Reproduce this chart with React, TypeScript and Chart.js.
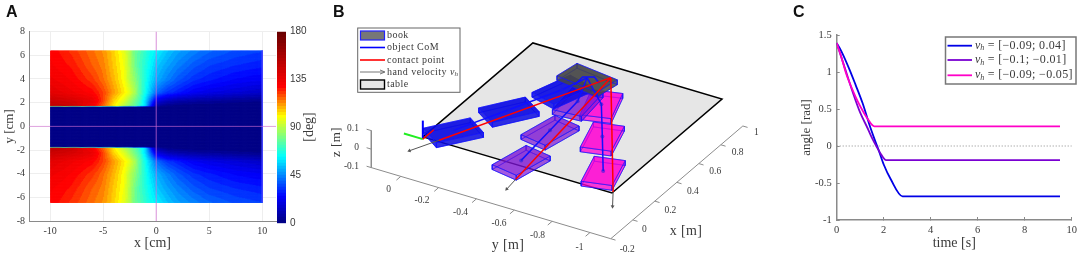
import React, { useEffect, useRef } from "react";
import { Chart, registerables } from "chart.js";

Chart.register(...registerables);

const SERIF = "'Liberation Serif', serif";
const SANS = "'Liberation Sans', sans-serif";
const AXIS = "#8a8a8a";
const INK = "#3a3a3a";

/* ---------- Panel A data ---------- */
const heatCols = [-10, -8, -6, -5, -4, -3, -2.5, -2, -1.5, -1, -0.5, 0, 1, 2, 3.5, 5, 7.5, 10];
const heatRows = [6.4, 5.2, 4, 2.9, 2.2, 1.75, 1.7, 0];
const heatRow64 = [129, 123, 116, 112, 105, 96, 89, 78, 74, 69, 64, 61, 54, 49, 44, 40, 36, 34];
const heatRow52 = [130, 126, 118, 114, 106, 98, 89, 79, 72, 67, 61, 55, 49, 44, 38, 34, 31, 29];
const heatRow40 = [133, 129, 122, 116, 108, 99, 90, 83, 74, 66, 57, 51, 44, 38, 32, 29, 25, 23];
const heatRow29 = [138, 133, 128, 121, 111, 102, 96, 87, 75, 64, 52, 41, 33, 29, 23, 20, 17, 14];
const heatRow22 = [146, 142, 135, 121, 105, 95, 87, 79, 71, 57, 38, 20, 12, 9, 7, 6, 4, 3];
const heatRow175 = [150, 146, 130, 117, 102, 89, 83, 76, 67, 57, 29, 7, 2, 1, 0, 0, 0, 0];
const heatRow17 = [0, 0, 0, 0, 0, 0, 0, 0, 0, 0, 0, 0, 0, 0, 0, 0, 0, 0];
const heatRow0 = [0, 0, 0, 0, 0, 0, 0, 0, 0, 0, 0, 0, 0, 0, 0, 0, 0, 0];
const heatTable = [heatRow64, heatRow52, heatRow40, heatRow29, heatRow22, heatRow175, heatRow17, heatRow0];
const ticksAx = [-10, -5, 0, 5, 10];
const ticksAy = [-8, -6, -4, -2, 0, 2, 4, 6, 8];
const ticksBar = [0, 45, 90, 135, 180];
const jetStops: number[][] = [
  [0, 0, 0, 128],
  [25, 0, 0, 255],
  [62, 0, 255, 255],
  [100, 255, 255, 0],
  [128, 255, 0, 0],
  [180, 100, 0, 0],
];
const BAND = 180 / 64;

/* ---------- Panel B data (metres) ---------- */
const blueBooksX = [0.085, 0.378, 0.661];
const blueBooksY = [-0.112, -0.235, -0.351];
const blueBooksA = [-0.62, -0.6, -0.3];
const purpleBooksX = [0.007, 0.312, 0.606];
const purpleBooksY = [-0.516, -0.491, -0.466];
const purpleBooksA = [-0.19, -0.19, 0.1];
const magentaBooksX = [0.116, 0.385, 0.639];
const magentaBooksY = [-0.886, -0.725, -0.572];
const magentaBooksA = [0.27, 0.27, 0.3];
const startBook = [0.814, -0.395, 1.42];
const arcX = [0.73, 0.809, 0.837, 0.802];
const arcY = [-0.379, -0.374, -0.42, -0.466];
const contactStart = [0.897, -0.472];
const contactEndX = [0.0, -0.128, 0.0];
const contactEndY = [-0.086, -0.566, -1.006];
const handVx = [-0.09, -0.1, -0.09];
const handVy = [0.04, -0.01, -0.05];
const handLen = [1.7, 1, 1.3];
const ticksBx = [-0.2, 0, 0.2, 0.4, 0.6, 0.8, 1];
const ticksBy = [0, -0.2, -0.4, -0.6, -0.8, -1];
const ticksBz = [-0.1, 0, 0.1];
const legendB = ["book", "object CoM", "contact point", "hand velocity ", "table"];

/* ---------- Panel C data ---------- */
const ticksCx = [0, 2, 4, 6, 8, 10];
const ticksCy = [-1, -0.5, 0, 0.5, 1, 1.5];
const blueT = [0, 0.2, 0.55, 0.8, 1.1, 1.4, 1.6, 1.8, 2.0, 2.3, 2.8, 9.5];
const blueA = [1.39, 1.28, 1.03, 0.83, 0.58, 0.28, 0.1, -0.07, -0.25, -0.45, -0.68, -0.68];
const purpleT = [0, 0.3, 0.7, 1.0, 1.3, 1.5, 1.7, 1.9, 2.1, 9.5];
const purpleA = [1.39, 1.1, 0.71, 0.45, 0.25, 0.11, -0.01, -0.12, -0.19, -0.19];
const magentaT = [0, 0.2, 0.4, 0.7, 0.9, 1.1, 1.3, 1.6, 9.5];
const magentaA = [1.39, 1.2, 0.98, 0.74, 0.6, 0.48, 0.375, 0.265, 0.265];
const legendC = [" = [−0.09; 0.04]", " = [−0.1; −0.01]", " = [−0.09; −0.05]"];

/* ---------- helpers ---------- */
function jet(v: number) {
  const q = Math.min(179.9, Math.max(0, Math.floor(v / BAND) * BAND + BAND / 2));
  for (let i = 1; i < jetStops.length; i++) {
    const a = jetStops[i - 1];
    const b = jetStops[i];
    if (q <= b[0]) {
      const t = (q - a[0]) / (b[0] - a[0]);
      return `rgb(${a[1] + (b[1] - a[1]) * t},${a[2] + (b[2] - a[2]) * t},${a[3] + (b[3] - a[3]) * t})`;
    }
  }
  return "rgb(100,0,0)";
}

function txt(ctx: any, s: string, x: number, y: number, font: string, opt: any = {}) {
  ctx.save();
  ctx.font = font;
  ctx.fillStyle = opt.color || INK;
  ctx.textAlign = opt.align || "center";
  ctx.textBaseline = "middle";
  if (opt.spacing) ctx.letterSpacing = opt.spacing;
  ctx.translate(x, y);
  if (opt.rot) ctx.rotate(opt.rot);
  ctx.fillText(s, 0, 0);
  const w = ctx.measureText(s).width;
  ctx.restore();
  return w;
}

function fixedTicks(values: number[]) {
  return (scale: any) => {
    scale.ticks = values.map((v) => ({ value: v }));
  };
}

function boxFit(prop: string, v: number) {
  return (scale: any) => {
    scale[prop] = v;
  };
}

/* ---------- Panel A ---------- */
function heatAt(x: number, y: number) {
  const ay = Math.abs(y);
  let r = 0;
  while (r < heatRows.length - 2 && ay < heatRows[r + 1]) r++;
  let c = 0;
  while (c < heatCols.length - 2 && x > heatCols[c + 1]) c++;
  const ty = (heatRows[r] - ay) / (heatRows[r] - heatRows[r + 1]);
  const tx = (x - heatCols[c]) / (heatCols[c + 1] - heatCols[c]);
  const top = heatTable[r][c] * (1 - tx) + heatTable[r][c + 1] * tx;
  const bot = heatTable[r + 1][c] * (1 - tx) + heatTable[r + 1][c + 1] * tx;
  return top * (1 - ty) + bot * ty;
}

const heatPlugin = {
  id: "heat",
  beforeDatasetsDraw(chart: any) {
    const { ctx, scales } = chart;
    const sx = scales.x;
    const sy = scales.y;
    const dx = 0.1;
    const dy = 0.05;
    const yMax = heatRows[0];
    const xMin = heatCols[0];
    const xMax = heatCols[heatCols.length - 1];
    for (let i = 0; xMin + i * dx < xMax - 1e-6; i++) {
      const x0 = xMin + i * dx;
      const px0 = sx.getPixelForValue(x0);
      const px1 = sx.getPixelForValue(x0 + dx);
      for (let j = 0; -yMax + j * dy < yMax - 1e-6; j++) {
        const y0 = -yMax + j * dy;
        const py0 = sy.getPixelForValue(y0 + dy);
        const py1 = sy.getPixelForValue(y0);
        ctx.fillStyle = jet(heatAt(x0 + dx / 2, y0 + dy / 2));
        ctx.fillRect(px0, py0, px1 - px0 + 0.6, py1 - py0 + 0.6);
      }
    }
  },
};

function makeA(canvas: HTMLCanvasElement) {
  const nodes: any[] = [];
  heatRows.forEach((y, r) =>
    heatCols.forEach((x, c) => nodes.push({ x, y, v: heatTable[r][c] }))
  );
  return new Chart(canvas, {
    type: "scatter",
    plugins: [heatPlugin],
    data: {
      datasets: [
        {
          label: "x = 0",
          data: [{ x: 0, y: -8 }, { x: 0, y: 8 }],
          showLine: true,
          borderColor: "rgba(214,110,214,0.7)",
          borderWidth: 1,
          pointRadius: 0,
        },
        {
          label: "y = 0",
          data: [{ x: -12, y: 0 }, { x: 11.3, y: 0 }],
          showLine: true,
          borderColor: "rgba(214,110,214,0.6)",
          borderWidth: 1,
          pointRadius: 0,
        },
        {
          label: "edge",
          data: [{ x: 10, y: 6.4 }, { x: 10, y: -6.4 }],
          showLine: true,
          borderColor: "rgba(70,70,255,0.8)",
          borderWidth: 1,
          pointRadius: 0,
        },
        { label: "angle", data: nodes, pointRadius: 0, showLine: false },
      ],
    },
    options: {
      responsive: false,
      animation: false,
      events: [],
      layout: { padding: { top: 31.5, right: 10, left: 0, bottom: 0 } },
      plugins: { legend: { display: false }, tooltip: { enabled: false } },
      scales: {
        x: {
          type: "linear",
          min: -12,
          max: 11.3,
          afterBuildTicks: fixedTicks(ticksAx),
          afterFit: boxFit("height", 31.7),
          grid: { color: "#eeeeee", drawTicks: false },
          border: { color: AXIS, width: 1 },
          ticks: { color: INK, font: { family: SERIF, size: 10 }, padding: 4, maxRotation: 0, autoSkip: false, callback: (v: any) => String(v) },
          title: { display: true, text: "x [cm]", color: INK, font: { family: SERIF, size: 14 }, padding: { top: 0, bottom: 1 } },
        },
        y: {
          type: "linear",
          min: -8,
          max: 8,
          afterBuildTicks: fixedTicks(ticksAy),
          afterFit: boxFit("width", 29),
          grid: { color: "#eeeeee", drawTicks: false },
          border: { color: AXIS, width: 1 },
          ticks: { color: INK, font: { family: SERIF, size: 10 }, padding: 4, autoSkip: false, callback: (v: any) => String(v) },
          title: { display: true, text: "y [cm]", color: INK, font: { family: SERIF, size: 13 }, padding: { top: 2, bottom: 0 } },
        },
      },
    },
  } as any);
}

function makeBar(canvas: HTMLCanvasElement) {
  const bands: any[] = [];
  for (let i = 0; i < 64; i++) {
    const lo = i * BAND;
    bands.push({
      label: String(lo),
      data: [[lo, lo + BAND + 0.3]],
      backgroundColor: jet(lo + 0.01),
      grouped: false,
      barPercentage: 1,
      categoryPercentage: 1,
      borderWidth: 0,
    });
  }
  return new Chart(canvas, {
    type: "bar",
    plugins: [
      {
        id: "barTitle",
        afterDraw(chart: any) {
          txt(chart.ctx, "[deg]", 32, 127, `14px ${SERIF}`, { rot: -Math.PI / 2 });
        },
      },
    ],
    data: { labels: [""], datasets: bands },
    options: {
      responsive: false,
      animation: false,
      events: [],
      layout: { padding: { top: 31.7, bottom: 29.7, left: 0, right: 0 } },
      plugins: { legend: { display: false }, tooltip: { enabled: false } },
      scales: {
        x: { display: false },
        y: {
          position: "right",
          min: 0,
          max: 180,
          afterBuildTicks: fixedTicks(ticksBar),
          afterFit: boxFit("width", 44),
          grid: { display: false, drawTicks: false },
          border: { display: false },
          ticks: { color: INK, font: { family: SANS, size: 10 }, padding: 4, autoSkip: false, callback: (v: any) => String(v) },
        },
      },
    },
  } as any);
}

/* ---------- Panel B ---------- */
function proj(x: number, y: number, z: number) {
  return {
    x: 398 + (x + 0.2) * 112 - y * 192.5,
    y: 178 - (x + 0.2) * 97 - y * 58 - (z + 0.1) * 191,
  };
}

const TABLE_Z = 0.012;
const BOOK_H = 0.026;

function line(data: any[], color: string, width: number, extra: any = {}) {
  return { data, showLine: true, borderColor: color, borderWidth: width, pointRadius: 0, ...extra };
}

function bookFaces(cx: number, cy: number, a: number, rgb: string, alphaTop: number, alphaSide: number, stroke: string) {
  const L = 0.118;
  const W = 0.073;
  const c = Math.cos(a);
  const s = Math.sin(a);
  const corners = [
    [L, W],
    [-L, W],
    [-L, -W],
    [L, -W],
  ].map(([u, v]) => [cx + u * c - v * s, cy + u * s + v * c]);
  const z0 = TABLE_Z;
  const z1 = TABLE_Z + BOOK_H;
  const ring = (z: number) => corners.map(([x, y]) => proj(x, y, z));
  const faces: any[] = [];
  const poly = (pts: any[], alpha: number) =>
    faces.push(
      line([...pts, pts[0]], stroke, 0.7, { fill: "shape", backgroundColor: `rgba(${rgb},${alpha})`, label: "face" })
    );
  poly(ring(z0), alphaSide);
  for (let i = 0; i < 4; i++) {
    const j = (i + 1) % 4;
    poly(
      [
        proj(corners[i][0], corners[i][1], z0),
        proj(corners[j][0], corners[j][1], z0),
        proj(corners[j][0], corners[j][1], z1),
        proj(corners[i][0], corners[i][1], z1),
      ],
      alphaSide
    );
  }
  poly(ring(z1), alphaTop);
  return faces;
}

function arrow(from: any, to: any, color: string) {
  const ang = (Math.atan2(to.y - from.y, to.x - from.x) * 180) / Math.PI + 90;
  return line([from, to], color, 1, {
    pointRadius: [0, 2.2],
    pointStyle: "triangle",
    pointRotation: ang,
    pointBackgroundColor: color,
    pointBorderWidth: 0,
    label: "hand velocity",
  });
}

const textB = {
  id: "textB",
  afterDraw(chart: any) {
    const ctx = chart.ctx;
    const ox = 330;
    const tickFont = `9.5px ${SERIF}`;
    ticksBy.forEach((v) => {
      const p = proj(-0.2, v, -0.1);
      txt(ctx, String(v), p.x - ox - 7, p.y + 11, tickFont, { align: "right" });
    });
    ticksBx.forEach((v) => {
      const p = proj(v, -1.11, -0.1);
      txt(ctx, String(v), p.x - ox + 8, p.y + 7, tickFont, { align: "left" });
    });
    ticksBz.forEach((v) => {
      const p = proj(-0.2, 0.156, v);
      txt(ctx, String(v), p.x - ox - 9, p.y - 2, tickFont, { align: "right" });
    });
    txt(ctx, "y [m]", 178, 245, `14px ${SERIF}`, { spacing: "0.4px" });
    txt(ctx, "x [m]", 356, 231, `14px ${SERIF}`, { spacing: "0.4px" });
    txt(ctx, "z [m]", 7, 142, `13px ${SERIF}`, { rot: -Math.PI / 2, spacing: "0.4px" });

    // legend
    ctx.save();
    ctx.fillStyle = "#ffffff";
    ctx.strokeStyle = "#666666";
    ctx.lineWidth = 1;
    ctx.fillRect(27.7, 28, 102.3, 64.3);
    ctx.strokeRect(27.7, 28, 102.3, 64.3);
    const rows = [35, 47.5, 60, 72, 84.5];
    const font = `10px ${SERIF}`;
    legendB.forEach((s, i) => {
      const w = txt(ctx, s, 57, rows[i], font, { align: "left", spacing: "0.45px" });
      if (i === 3) {
        const xx = 57 + w;
        const w2 = txt(ctx, "v", xx, rows[i], `italic 10px ${SERIF}`, { align: "left" });
        txt(ctx, "h", xx + w2, rows[i] + 2.5, `italic 7px ${SERIF}`, { align: "left" });
      }
    });
    ctx.fillStyle = "#777777";
    ctx.strokeStyle = "#2222ff";
    ctx.lineWidth = 1.2;
    ctx.fillRect(30.5, 31, 24, 9);
    ctx.strokeRect(30.5, 31, 24, 9);
    ctx.lineWidth = 1.6;
    ctx.strokeStyle = "#0000ff";
    ctx.beginPath();
    ctx.moveTo(30, rows[1]);
    ctx.lineTo(55, rows[1]);
    ctx.stroke();
    ctx.strokeStyle = "#ff0000";
    ctx.beginPath();
    ctx.moveTo(30, rows[2]);
    ctx.lineTo(55, rows[2]);
    ctx.stroke();
    ctx.strokeStyle = "#666666";
    ctx.lineWidth = 0.9;
    ctx.beginPath();
    ctx.moveTo(30, rows[3]);
    ctx.lineTo(54, rows[3]);
    ctx.moveTo(50, rows[3] - 2);
    ctx.lineTo(55, rows[3]);
    ctx.lineTo(50, rows[3] + 2);
    ctx.stroke();
    ctx.fillStyle = "#e6e6e6";
    ctx.strokeStyle = "#000000";
    ctx.lineWidth = 1.4;
    ctx.fillRect(30.5, 80, 24, 9);
    ctx.strokeRect(30.5, 80, 24, 9);
    ctx.restore();
  },
};

function makeB(canvas: HTMLCanvasElement) {
  const ds: any[] = [];
  const AX = "#8c8c8c";
  // table
  const t = [proj(0, 0, TABLE_Z), proj(1, 0, TABLE_Z), proj(1, -1, TABLE_Z), proj(0, -1, TABLE_Z)];
  ds.push(line([...t, t[0]], "#000000", 1.5, { fill: "shape", backgroundColor: "#e6e6e6", label: "table" }));
  // axes
  ds.push(line([proj(-0.2, 0.156, 0.1), proj(-0.2, 0.156, -0.1), proj(-0.2, -1.11, -0.1), proj(1, -1.11, -0.1)], AX, 1, { label: "axes" }));
  ticksBy.forEach((v) => ds.push(line([proj(-0.2, v, -0.1), proj(-0.24, v, -0.1)], AX, 1)));
  ticksBx.forEach((v) => ds.push(line([proj(v, -1.11, -0.1), proj(v, -1.135, -0.1)], AX, 1)));
  ticksBz.forEach((v) => ds.push(line([proj(-0.2, 0.156, v), proj(-0.2, 0.181, v)], AX, 1)));

  // books
  const BLUE = "rgba(20,20,255,0.85)";
  magentaBooksX
    .map((x, i) => [x, magentaBooksY[i], magentaBooksA[i]])
    .reverse()
    .forEach(([x, y, a]) => ds.push(...bookFaces(x, y, a, "255,0,210", 0.72, 0.5, BLUE)));
  purpleBooksX
    .map((x, i) => [x, purpleBooksY[i], purpleBooksA[i]])
    .reverse()
    .forEach(([x, y, a]) => ds.push(...bookFaces(x, y, a, "125,20,210", 0.62, 0.45, BLUE)));
  blueBooksX
    .map((x, i) => [x, blueBooksY[i], blueBooksA[i]])
    .reverse()
    .forEach(([x, y, a]) => ds.push(...bookFaces(x, y, a, "10,10,225", 0.78, 0.6, BLUE)));
  ds.push(...bookFaces(startBook[0], startBook[1], startBook[2], "70,70,70", 0.8, 0.6, BLUE));

  // world frame
  ds.push(line([proj(0, 0, 0), proj(0, 0, 0.1)], "#0000ff", 2, { label: "frame z" }));
  ds.push(line([proj(0, 0, 0), proj(0, 0.1, 0)], "#22ee22", 2, { label: "frame y" }));
  ds.push(line([proj(0, 0, 0), proj(0.1, 0, 0)], "#ff0000", 1.5, { label: "frame x" }));

  // centre-of-mass and contact paths
  const zTop = TABLE_Z + BOOK_H;
  const s0 = proj(startBook[0], startBook[1], zTop);
  const paths = [
    [blueBooksX, blueBooksY],
    [purpleBooksX, purpleBooksY],
    [magentaBooksX, magentaBooksY],
  ];
  paths.forEach(([xs, ys]) => {
    const pts = xs.map((x, i) => proj(x, ys[i], zTop));
    ds.push(
      line([...pts, s0], "#1010ff", 1.5, {
        label: "object CoM",
        pointRadius: [2, 2, 2, 0],
        pointBackgroundColor: "rgba(30,30,220,0.55)",
        pointBorderWidth: 0,
      })
    );
  });
  ds.push(line(arcX.map((x, i) => proj(x, arcY[i], zTop)), "#1010ff", 1.5, { label: "object CoM" }));
  contactEndX.forEach((x, i) => {
    const y = contactEndY[i];
    ds.push(arrow(proj(x, y, 0.02), proj(x + handVx[i] * handLen[i], y + handVy[i] * handLen[i], 0.02), "#555555"));
    ds.push(line([proj(contactStart[0], contactStart[1], 0.02), proj(x, y, 0.02)], "#ff0000", 1.5, { label: "contact point" }));
  });

  return new Chart(canvas, {
    type: "scatter",
    plugins: [textB],
    data: { datasets: ds.reverse() },
    options: {
      responsive: false,
      animation: false,
      events: [],
      layout: { padding: 0 },
      plugins: { legend: { display: false }, tooltip: { enabled: false } },
      scales: {
        x: { display: false, type: "linear", min: 330, max: 790 },
        y: { display: false, type: "linear", min: 0, max: 253, reverse: true },
      },
    },
  } as any);
}

/* ---------- Panel C ---------- */
const legendCPlugin = {
  id: "legendC",
  afterDraw(chart: any) {
    const ctx = chart.ctx;
    const ox = 790;
    ctx.save();
    ctx.fillStyle = "#ffffff";
    ctx.strokeStyle = "#777777";
    ctx.lineWidth = 1.5;
    ctx.fillRect(945.5 - ox, 37, 130.5, 47);
    ctx.strokeRect(945.5 - ox, 37, 130.5, 47);
    const ys = [45.7, 60, 75.3];
    const cols = ["#0000e6", "#7a00d2", "#ff00c8"];
    ys.forEach((y, i) => {
      ctx.strokeStyle = cols[i];
      ctx.lineWidth = 1.8;
      ctx.beginPath();
      ctx.moveTo(947.5 - ox, y);
      ctx.lineTo(972 - ox, y);
      ctx.stroke();
      const x0 = 975 - ox;
      const w1 = txt(ctx, "v", x0, y, `italic 12px ${SERIF}`, { align: "left" });
      const w2 = txt(ctx, "h", x0 + w1, y + 2.5, `italic 8px ${SERIF}`, { align: "left" });
      txt(ctx, legendC[i], x0 + w1 + w2, y, `12px ${SERIF}`, { align: "left", spacing: "0.35px" });
    });
    ctx.restore();
  },
};

function pairs(xs: number[], ys: number[]) {
  return xs.map((x, i) => ({ x, y: ys[i] }));
}

function makeC(canvas: HTMLCanvasElement) {
  const series = (label: string, xs: number[], ys: number[], color: string) => ({
    label,
    data: pairs(xs, ys),
    showLine: true,
    borderColor: color,
    borderWidth: 1.8,
    pointRadius: 0,
    cubicInterpolationMode: "monotone",
  });
  const tickCfg = {
    color: INK,
    font: { family: SERIF, size: 10.5 },
    autoSkip: false,
    maxRotation: 0,
    callback: (v: any) => String(v),
  };
  return new Chart(canvas, {
    type: "scatter",
    plugins: [legendCPlugin],
    data: {
      datasets: [
        series("magenta", magentaT, magentaA, "#ff00c8"),
        series("purple", purpleT, purpleA, "#7a00d2"),
        series("blue", blueT, blueA, "#0000e6"),
        {
          label: "zero",
          data: [{ x: 0, y: 0 }, { x: 10, y: 0 }],
          showLine: true,
          borderColor: "#8a8a8a",
          borderWidth: 1,
          borderDash: [1, 2],
          pointRadius: 0,
        },
      ],
    },
    options: {
      responsive: false,
      animation: false,
      events: [],
      layout: { padding: { top: 35, right: 6.7, left: 0, bottom: 0 } },
      plugins: { legend: { display: false }, tooltip: { enabled: false } },
      scales: {
        x: {
          type: "linear",
          min: 0,
          max: 10,
          afterBuildTicks: fixedTicks(ticksCx),
          afterFit: boxFit("height", 33),
          grid: { drawOnChartArea: false, drawTicks: true, tickLength: -3, color: AXIS },
          border: { color: AXIS, width: 1.5 },
          ticks: { ...tickCfg, padding: 7 },
          title: { display: true, text: "time [s]", color: INK, font: { family: SERIF, size: 14 }, padding: { top: 0, bottom: 1 } },
        },
        y: {
          type: "linear",
          min: -1,
          max: 1.5,
          afterBuildTicks: fixedTicks(ticksCy),
          afterFit: boxFit("width", 46.7),
          grid: { drawOnChartArea: false, drawTicks: true, tickLength: -3, color: AXIS },
          border: { color: AXIS, width: 1.5 },
          ticks: { ...tickCfg, padding: 8 },
          title: { display: true, text: "angle [rad]", color: INK, font: { family: SERIF, size: 13 }, padding: { top: 9, bottom: 0 } },
        },
      },
    },
  } as any);
}

/* ---------- App ---------- */
const letter = (left: number): React.CSSProperties => ({
  position: "absolute",
  left,
  top: 3,
  font: `bold 16px ${SANS}`,
  color: "#111",
  lineHeight: "18px",
});
const cv = (left: number): React.CSSProperties => ({ position: "absolute", left, top: 0, display: "block", filter: "blur(0.35px)" });

export default function App() {
  const a = useRef<HTMLCanvasElement>(null);
  const bar = useRef<HTMLCanvasElement>(null);
  const b = useRef<HTMLCanvasElement>(null);
  const c = useRef<HTMLCanvasElement>(null);
  useEffect(() => {
    const charts = [makeA(a.current!), makeBar(bar.current!), makeB(b.current!), makeC(c.current!)];
    return () => charts.forEach((ch) => ch.destroy());
  }, []);
  return (
    <div style={{ position: "fixed", left: 0, top: 0, width: 1084, height: 253, overflow: "hidden", background: "#fff" }}>
      <canvas ref={a} width={286} height={253} style={cv(0)} />
      <canvas ref={bar} width={53} height={253} style={cv(277)} />
      <canvas ref={b} width={460} height={253} style={cv(330)} />
      <canvas ref={c} width={294} height={253} style={cv(790)} />
      <div style={letter(6)}>A</div>
      <div style={letter(333)}>B</div>
      <div style={letter(793)}>C</div>
    </div>
  );
}
